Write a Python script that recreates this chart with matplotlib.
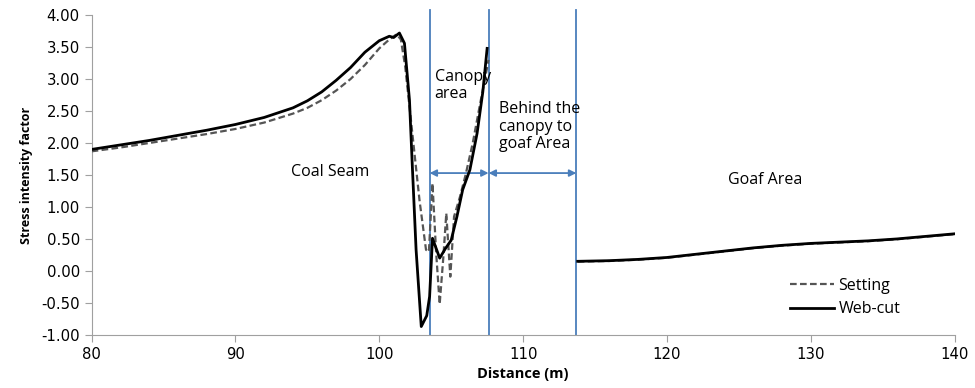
import numpy as np
import matplotlib.pyplot as plt

plt.rcParams['font.family'] = ['Open Sans', 'DejaVu Sans']

# Web-cut curve
web_x = [80, 82, 84, 86, 88, 90, 92, 94, 95, 96, 97, 98, 99, 100, 100.7, 101.0, 101.4,
         101.75, 102.1, 102.3, 102.56, 102.92, 103.3, 103.5, 103.7, 104.2, 104.6, 105.0,
         105.4, 105.8, 106.3, 106.8, 107.2, 107.5]
web_y = [1.90, 1.97, 2.04, 2.12, 2.20, 2.29, 2.40, 2.55, 2.66, 2.80, 2.98, 3.18, 3.42,
         3.60, 3.67, 3.65, 3.72, 3.56, 2.67, 1.63, 0.33, -0.87, -0.70, -0.40, 0.51, 0.20,
         0.35, 0.48, 0.85, 1.27, 1.58, 2.15, 2.80, 3.48]

# Setting curve
set_x = [80, 82, 84, 86, 88, 90, 92, 94, 95, 96, 97, 98, 99, 100, 100.7, 101.2, 101.5,
         101.8, 102.3, 102.8, 103.25, 103.45, 103.7, 103.95, 104.2, 104.45, 104.66, 104.94,
         105.2, 105.6, 106.0, 106.5, 107.0, 107.6]
set_y = [1.87, 1.93, 2.00, 2.07, 2.14, 2.22, 2.32, 2.46, 2.55, 2.67, 2.82, 3.00, 3.22,
         3.48, 3.62, 3.70, 3.62, 3.20, 2.15, 1.10, 0.33, 0.30, 1.37, 0.30, -0.52, 0.20,
         0.90, -0.09, 0.85, 1.15, 1.50, 2.00, 2.60, 3.30]

# Goaf region (both cases overlap)
goaf_x = [113.8, 116, 118, 120, 122, 124, 126, 128, 130, 132, 134, 136, 138, 140]
goaf_y = [0.15, 0.16, 0.18, 0.21, 0.26, 0.31, 0.36, 0.40, 0.43, 0.45, 0.47, 0.50, 0.54, 0.58]

boundaries = [103.5, 107.6, 113.7]
arrow_y = 1.53

fig = plt.figure(figsize=(9.75, 3.88), dpi=100)
ax = fig.add_axes([0.094, 0.137, 0.885, 0.824])

blue = '#4a7ebb'
for b in boundaries:
    ax.axvline(b, color=blue, lw=1.3, ymin=0, ymax=1.015, clip_on=False, zorder=1)

ax.plot(set_x, set_y, color='#555555', lw=1.6, ls=(0, (3, 1.5)), label='Setting', zorder=3)
ax.plot(goaf_x, [v - 0.005 for v in goaf_y], color='#555555', lw=1.6, ls=(0, (3, 1.5)), zorder=3)
ax.plot(web_x, web_y, color='black', lw=2, label='Web-cut', zorder=4)
ax.plot(goaf_x, goaf_y, color='black', lw=2, zorder=4)

for x0, x1 in [(boundaries[0], boundaries[1]), (boundaries[1], boundaries[2])]:
    ax.annotate('', xy=(x0, arrow_y), xytext=(x1, arrow_y),
                arrowprops=dict(arrowstyle='<|-|>', color=blue, lw=1.3,
                                shrinkA=0, shrinkB=0, mutation_scale=10))

tfs = 11.5
ax.text(96.6, 1.55, 'Coal Seam', ha='center', va='center', fontsize=tfs)
ax.text(103.85, 3.16, 'Canopy\narea', ha='left', va='top', fontsize=tfs, linespacing=1.1)
ax.text(108.3, 2.65, 'Behind the\ncanopy to\ngoaf Area', ha='left', va='top', fontsize=tfs,
        linespacing=1.1)
ax.text(126.8, 1.42, 'Goaf Area', ha='center', va='center', fontsize=tfs)

ax.set_xlim(80, 140)
ax.set_ylim(-1, 4)
ax.set_xticks(range(80, 141, 10))
ax.set_yticks(np.arange(-1, 4.01, 0.5))
ax.set_yticklabels([f'{v:.2f}' for v in np.arange(-1, 4.01, 0.5)])
ax.tick_params(labelsize=10.7, color='#a0a0a0', length=5)
for lab in ax.get_xticklabels() + ax.get_yticklabels():
    lab.set_family('DejaVu Sans')
for s in ['top', 'right']:
    ax.spines[s].set_visible(False)
for s in ['left', 'bottom']:
    ax.spines[s].set_color('#a0a0a0')

ax.set_xlabel('Distance (m)', fontsize=10.5, fontweight='bold', labelpad=4)
ax.set_ylabel('Stress intensity factor', fontsize=9, fontweight='bold', labelpad=6)

ax.legend(loc='lower right', bbox_to_anchor=(0.95, 0.02), frameon=False, fontsize=11.5,
          handlelength=2.7, handletextpad=0.3, borderaxespad=0.3, labelspacing=0.45)

fig.savefig('out.png', dpi=100)
